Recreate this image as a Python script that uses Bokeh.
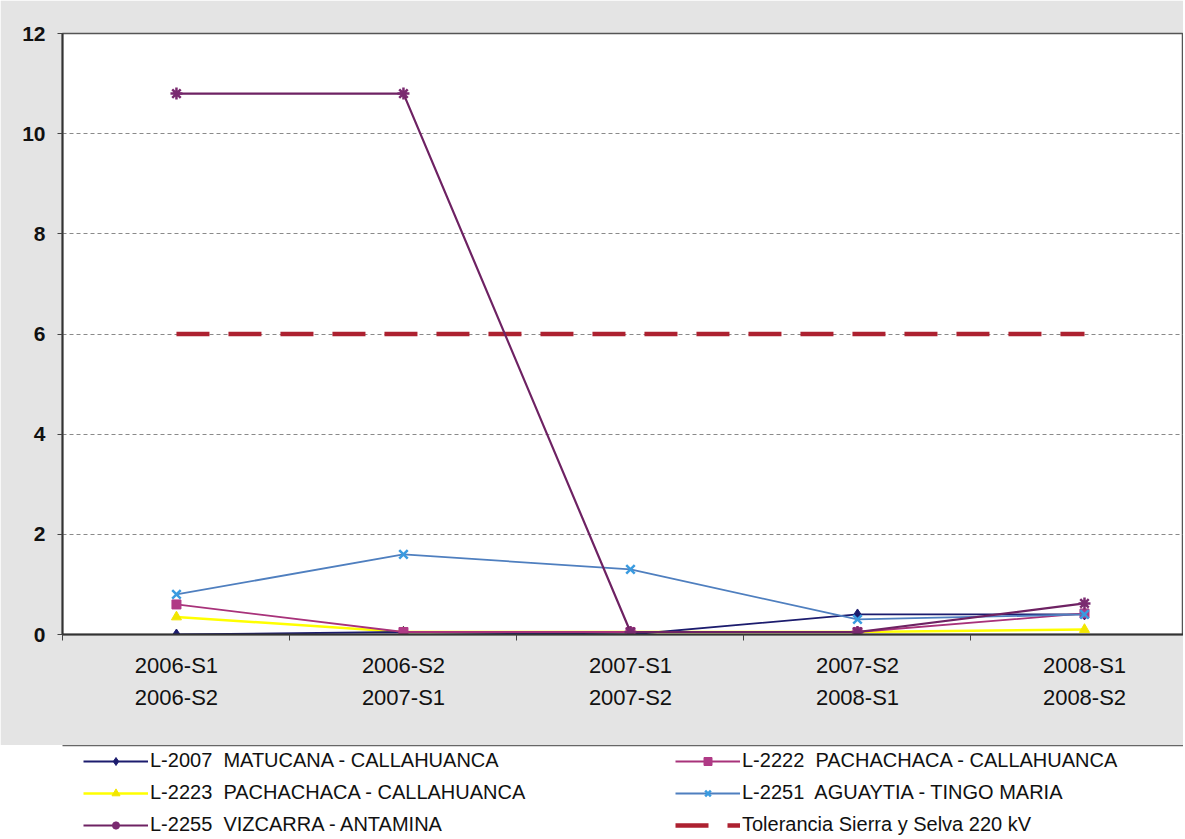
from bokeh.plotting import figure
from bokeh.layouts import column
from bokeh.models import Range1d, LinearAxis, FixedTicker, Legend, LegendItem, ColumnDataSource
from bokeh.embed import file_html
from bokeh.resources import INLINE

# ---- data ----
periods_top = ["2006-S1", "2006-S2", "2007-S1", "2007-S2", "2008-S1"]
periods_bottom = ["2006-S2", "2007-S1", "2007-S2", "2008-S1", "2008-S2"]
l2007 = [0.0, 0.05, 0.0, 0.4, 0.4]
l2222 = [0.6, 0.05, 0.05, 0.05, 0.42]
l2223 = [0.35, 0.05, 0.05, 0.05, 0.1]
l2251 = [0.8, 1.6, 1.3, 0.3, 0.4]
l2255 = [10.8, 10.8, 0.05, 0.05, 0.62]
tolerancia = [6, 6, 6, 6, 6]
y_ticks = [0, 2, 4, 6, 8, 10, 12]
labels = [
    "L-2007  MATUCANA - CALLAHUANCA",
    "L-2222  PACHACHACA - CALLAHUANCA",
    "L-2223  PACHACHACA - CALLAHUANCA",
    "L-2251  AGUAYTIA - TINGO MARIA",
    "L-2255  VIZCARRA - ANTAMINA",
    "Tolerancia Sierra y Selva 220 kV",
]

xs = list(range(len(periods_top)))
src = ColumnDataSource(dict(x=xs, l2007=l2007, l2222=l2222, l2223=l2223,
                            l2251=l2251, l2255=l2255, tol=tolerancia))

FONT = "Liberation Sans"
GRAY = "#E4E4E4"
W = 1183

# series styles (shared by plot and legend keys)
styles = {
    "tol":   dict(line=dict(line_color="#AD2130", line_width=4.5, line_dash="33 19"), marker=None),
    "l2223": dict(line=dict(line_color="#FFFF00", line_width=2.5),
                  marker=dict(marker="triangle", size=10, fill_color="#F2E600", line_color="#F2E600")),
    "l2007": dict(line=dict(line_color="#1C1C6E", line_width=1.8),
                  marker=dict(marker="diamond", size=11, fill_color="#1C1C6E", line_color="#1C1C6E")),
    "l2222": dict(line=dict(line_color="#A8327A", line_width=1.8),
                  marker=dict(marker="square", size=9, fill_color="#B03A86", line_color="#B03A86")),
    "l2251": dict(line=dict(line_color="#4F7FBF", line_width=1.8),
                  marker=dict(marker="x", size=12, line_color="#3A9BE0", line_width=2.5)),
    "l2255": dict(line=dict(line_color="#6E2263", line_width=2.2),
                  marker=dict(marker="asterisk", size=12, line_color="#7A2A70", line_width=2.5)),
}

p = figure(width=W, height=745, output_backend="svg", toolbar_location=None,
           x_range=Range1d(-0.502, (W - 176) / 227), y_range=Range1d(0, 12),
           x_axis_type=None, min_border_left=62, min_border_right=0,
           min_border_top=33, min_border_bottom=111)
p.border_fill_color = GRAY
p.background_fill_color = "white"
p.outline_line_color = "#555555"
p.outline_line_width = 1.5

# y axis
yax = p.yaxis[0]
yax.ticker = FixedTicker(ticks=y_ticks)
yax.major_label_text_font = FONT
yax.major_label_text_font_style = "bold"
yax.major_label_text_font_size = "21px"
yax.major_label_text_color = "#111111"
yax.axis_line_color = "#333333"
yax.axis_line_width = 2
yax.major_tick_out = 5
yax.major_tick_in = 0
yax.minor_tick_out = 0
yax.minor_tick_in = 0
yax.major_tick_line_color = "#444444"
yax.major_label_standoff = 12

p.ygrid.ticker = FixedTicker(ticks=y_ticks)
p.ygrid.grid_line_dash = "4 3"
p.ygrid.grid_line_color = "#8a8a8a"
p.ygrid.grid_line_width = 1

# x axes (two lines of category labels)
xax1 = LinearAxis(ticker=FixedTicker(ticks=xs, minor_ticks=[i - 0.5 for i in range(len(xs) + 1)]),
                  major_label_overrides={i: t for i, t in enumerate(periods_top)})
xax1.axis_line_color = "#333333"
xax1.axis_line_width = 2
xax1.major_tick_out = 0
xax1.major_tick_in = 0
xax1.minor_tick_out = 6
xax1.minor_tick_in = 0
xax1.minor_tick_line_color = "#444444"
xax1.major_label_standoff = 12
xax2 = LinearAxis(ticker=FixedTicker(ticks=xs),
                  major_label_overrides={i: t for i, t in enumerate(periods_bottom)})
xax2.axis_line_color = None
xax2.major_tick_out = 0
xax2.major_tick_in = 0
xax2.minor_tick_out = 0
xax2.minor_tick_in = 0
xax2.major_label_standoff = 4
for ax in (xax1, xax2):
    ax.major_label_text_font = FONT
    ax.major_label_text_font_size = "22px"
    ax.major_label_text_color = "#111111"
p.add_layout(xax1, "below")
p.add_layout(xax2, "below")

# series drawn from the data
for key in ["tol", "l2223", "l2007", "l2222", "l2251", "l2255"]:
    st = styles[key]
    p.line("x", key, source=src, **st["line"])
    if st["marker"] is not None:
        p.scatter("x", key, source=src, **st["marker"])

# ---- legend panel (white box under the chart) ----
q = figure(width=W, height=94, output_backend="svg", toolbar_location=None,
           x_range=Range1d(0, 1), y_range=Range1d(0, 1),
           x_axis_type=None, y_axis_type=None,
           min_border_left=10, min_border_right=0, min_border_top=0, min_border_bottom=0)
q.border_fill_color = "white"
q.background_fill_color = "white"
q.outline_line_color = None
q.xgrid.visible = False
q.ygrid.visible = False
top_rule = LinearAxis(ticker=FixedTicker(ticks=[]), axis_line_color="#666666", axis_line_width=1.5,
                      major_tick_out=0, major_tick_in=0, minor_tick_out=0, minor_tick_in=0,
                      major_label_standoff=0, major_label_text_font_size="1px")
q.add_layout(top_rule, "above")

# legend keys: proxies with no visible points (NaN), styled like the plotted series
proxy = ColumnDataSource(dict(x=[float("nan")], y=[float("nan")]))
keys_order = ["l2007", "l2222", "l2223", "l2251", "l2255", "tol"]
items = []
for key, lab in zip(keys_order, labels):
    st = styles[key]
    rs = [q.line("x", "y", source=proxy, **st["line"])]
    if st["marker"] is not None:
        rs.append(q.scatter("x", "y", source=proxy, **st["marker"]))
    items.append(LegendItem(label=lab, renderers=rs))

legend = Legend(items=items, orientation="horizontal", ncols=2, location=(21, 3))
legend.label_text_font = FONT
legend.label_text_font_size = "20px"
legend.label_text_color = "#111111"
legend.glyph_width = 65
legend.glyph_height = 20
legend.label_height = 22
legend.label_standoff = 2
legend.spacing = 9
legend.padding = 2
legend.label_width = 516
legend.background_fill_alpha = 0
legend.border_line_color = None
legend.margin = 0
q.add_layout(legend, "center")

layout = column(p, q, spacing=0)
open("out.html", "w").write(file_html(layout, INLINE))
